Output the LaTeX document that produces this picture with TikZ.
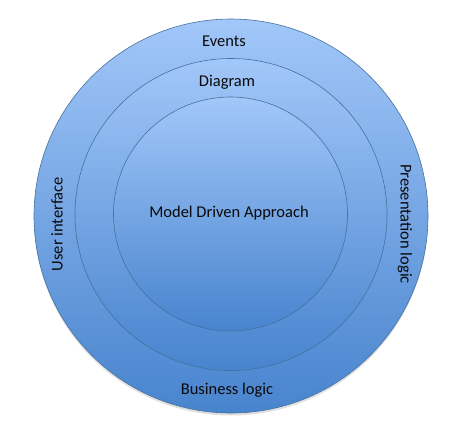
\documentclass[tikz,border=0pt]{standalone}
\usepackage{fontspec}
\setmainfont{Carlito}
\usepackage{tikz}
\usetikzlibrary{positioning,shadows}
\definecolor{ringtop}{HTML}{A2C7F9}
\definecolor{ringbottom}{HTML}{4884CE}
\definecolor{ringline}{HTML}{44729F}
\definecolor{labelink}{HTML}{0A0A0A}
\tikzset{
  ring/.style={circle, draw=ringline, line width=0.6pt, top color=ringtop, bottom color=ringbottom, inner sep=0pt},
  ringlabel/.style={font=\fontsize{16.5}{18}\selectfont, text=labelink, inner sep=0pt}
}

\begin{document}
\begin{tikzpicture}[x=1pt, y=-1pt]
  \useasboundingbox (0,0) rectangle (454,437);
  \node[ring, minimum size=394pt, drop shadow={opacity=0.25, shadow xshift=0pt, shadow yshift=-2.5pt}] (outer) at (231,216) {};
  \node[ring, minimum size=312pt] (middle) at (231,214.5) {};
  \node[ring, minimum size=234pt] (inner) at (230.5,214) {};
  \node[ringlabel] (core) at (229,213) {Model Driven Approach};
  \node[ringlabel] (events) at (224,41) {Events};
  \node[ringlabel] (diagram) at (227,82) {Diagram};
  \node[ringlabel] (business) at (227,390) {Business logic};
  \node[ringlabel, rotate=90] (ui) at (57,224) {User interface};
  \node[ringlabel, rotate=-90] (presentation) at (405,224) {Presentation logic};
\end{tikzpicture}
\end{document}
